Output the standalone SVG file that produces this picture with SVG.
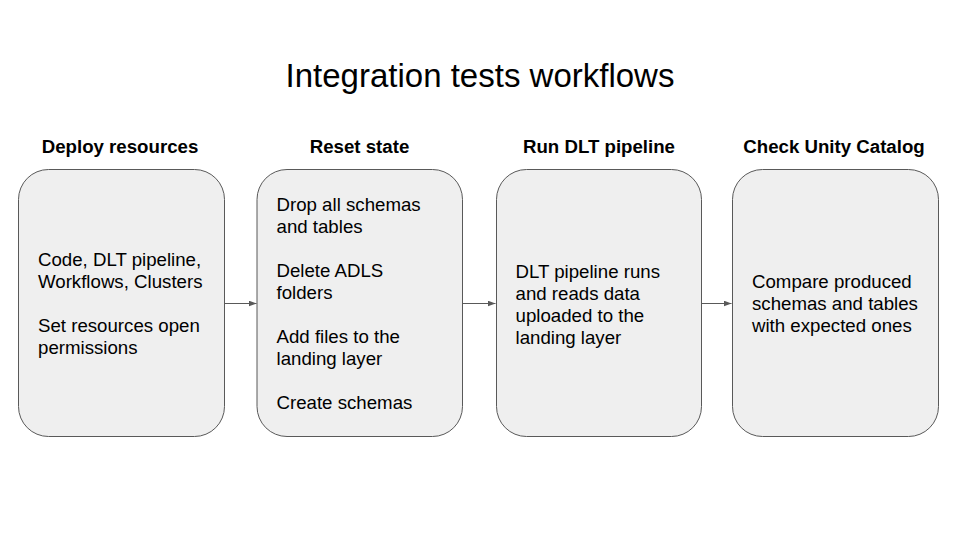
<svg xmlns="http://www.w3.org/2000/svg" width="960" height="540" viewBox="0 0 960 540">
<defs>
<style>
.box{fill:#efefef;stroke:#595959;stroke-width:1}
.t{font-family:"Liberation Sans",Arial,sans-serif;font-size:18.67px;fill:#000}
.h{font-family:"Liberation Sans",Arial,sans-serif;font-size:18.67px;font-weight:bold;fill:#000;text-anchor:middle}
.title{font-family:"Liberation Sans",Arial,sans-serif;font-size:33px;fill:#000;text-anchor:middle}
.conn{stroke:#595959;stroke-width:1;fill:none}
</style>
<marker id="arr" markerWidth="8" markerHeight="6" refX="8" refY="3" orient="auto" markerUnits="userSpaceOnUse">
<path d="M0,0 L8,3 L0,6 Z" fill="#595959"/>
</marker>
</defs>
<rect width="960" height="540" fill="#ffffff"/>
<text class="title" x="480" y="87">Integration tests workflows</text>
<g id="connectors">
<line class="conn" x1="224.5" y1="303.5" x2="256.5" y2="303.5" marker-end="url(#arr)"/>
<line class="conn" x1="462.5" y1="303.5" x2="495.5" y2="303.5" marker-end="url(#arr)"/>
<line class="conn" x1="701.5" y1="303.5" x2="731.5" y2="303.5" marker-end="url(#arr)"/>
</g>
<g id="deploy">
<text class="h" x="120" y="153">Deploy resources</text>
<rect class="box" x="18.5" y="169.5" width="206" height="267" rx="30"/>
<text class="t" x="38" y="266">Code, DLT pipeline,</text>
<text class="t" x="38" y="288">Workflows, Clusters</text>
<text class="t" x="38" y="332">Set resources open</text>
<text class="t" x="38" y="354">permissions</text>
</g>
<g id="reset">
<text class="h" x="359.5" y="153">Reset state</text>
<rect class="box" x="257" y="169.5" width="205.5" height="267" rx="30"/>
<text class="t" x="276.5" y="211">Drop all schemas</text>
<text class="t" x="276.5" y="233">and tables</text>
<text class="t" x="276.5" y="277">Delete ADLS</text>
<text class="t" x="276.5" y="299">folders</text>
<text class="t" x="276.5" y="343">Add files to the</text>
<text class="t" x="276.5" y="365">landing layer</text>
<text class="t" x="276.5" y="409">Create schemas</text>
</g>
<g id="run">
<text class="h" x="599" y="153">Run DLT pipeline</text>
<rect class="box" x="496.5" y="169.5" width="205" height="267" rx="30"/>
<text class="t" x="515.5" y="277.5">DLT pipeline runs</text>
<text class="t" x="515.5" y="299.5">and reads data</text>
<text class="t" x="515.5" y="321.5">uploaded to the</text>
<text class="t" x="515.5" y="343.5">landing layer</text>
</g>
<g id="check">
<text class="h" x="834" y="153">Check Unity Catalog</text>
<rect class="box" x="732.5" y="169.5" width="206" height="267" rx="30"/>
<text class="t" x="752" y="288">Compare produced</text>
<text class="t" x="752" y="310">schemas and tables</text>
<text class="t" x="752" y="332">with expected ones</text>
</g>
</svg>
